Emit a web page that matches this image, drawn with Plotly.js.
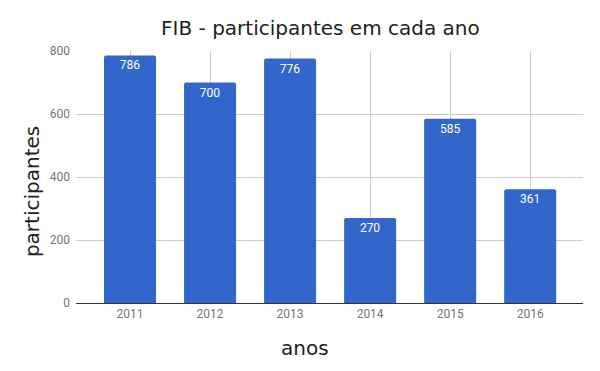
<!DOCTYPE html>
<html><head><meta charset="utf-8">
<script src="https://cdn.plot.ly/plotly-3.0.1.min.js"></script>
<style>html,body{margin:0;padding:0;background:#fff}#c{width:600px;height:371px}</style>
</head><body><div id="c"></div>
<script>
var anos = ['2011','2012','2013','2014','2015','2016'];
var participantes = [786, 700, 776, 270, 585, 361];
var yTicks = [0, 200, 400, 600, 800];
var titleText = 'FIB - participantes em cada ano';
var xTitle = 'anos';
var yTitle = 'participantes';

var bigFont = {family: 'DejaVu Sans', size: 20, color: '#222222'};

Plotly.newPlot('c', [{
  type: 'bar',
  x: anos,
  y: participantes,
  text: participantes.map(String),
  textposition: 'inside',
  insidetextanchor: 'end',
  textangle: 0,
  textfont: {family: 'Roboto', size: 12, color: '#ffffff'},
  marker: {color: '#3366cc', cornerradius: 2},
  width: 0.65,
  hoverinfo: 'none'
}], {
  width: 600, height: 371,
  margin: {l: 76, r: 17, t: 51, b: 68},
  paper_bgcolor: '#fff', plot_bgcolor: '#fff',
  showlegend: false,
  title: {text: titleText, x: 0.534, xanchor: 'center', y: 0.924, yanchor: 'middle', font: bigFont},
  xaxis: {
    type: 'category', range: [-0.675, 5.66],
    showgrid: true, gridcolor: '#cccccc', gridwidth: 1,
    tickfont: {family: 'Roboto', size: 12, color: '#757575'},
    ticks: '', showline: false, zeroline: false, ticklabelstandoff: 2
  },
  yaxis: {
    range: [0, 800], tickvals: yTicks, ticktext: yTicks.map(String),
    showgrid: true, gridcolor: '#cccccc', gridwidth: 1,
    zeroline: true, zerolinecolor: '#333333', zerolinewidth: 1,
    tickfont: {family: 'Roboto', size: 12, color: '#757575'},
    ticks: '', ticklabelstandoff: 5
  },
  annotations: [
    {text: xTitle, xref: 'paper', yref: 'paper', x: 0.4507, y: -0.178, xanchor: 'center', yanchor: 'middle', showarrow: false, font: bigFont},
    {text: yTitle, xref: 'paper', yref: 'paper', x: -0.0868, y: 0.444, xanchor: 'center', yanchor: 'middle', textangle: -90, showarrow: false, font: bigFont}
  ]
}, {displayModeBar: false, staticPlot: true});
</script></body></html>
